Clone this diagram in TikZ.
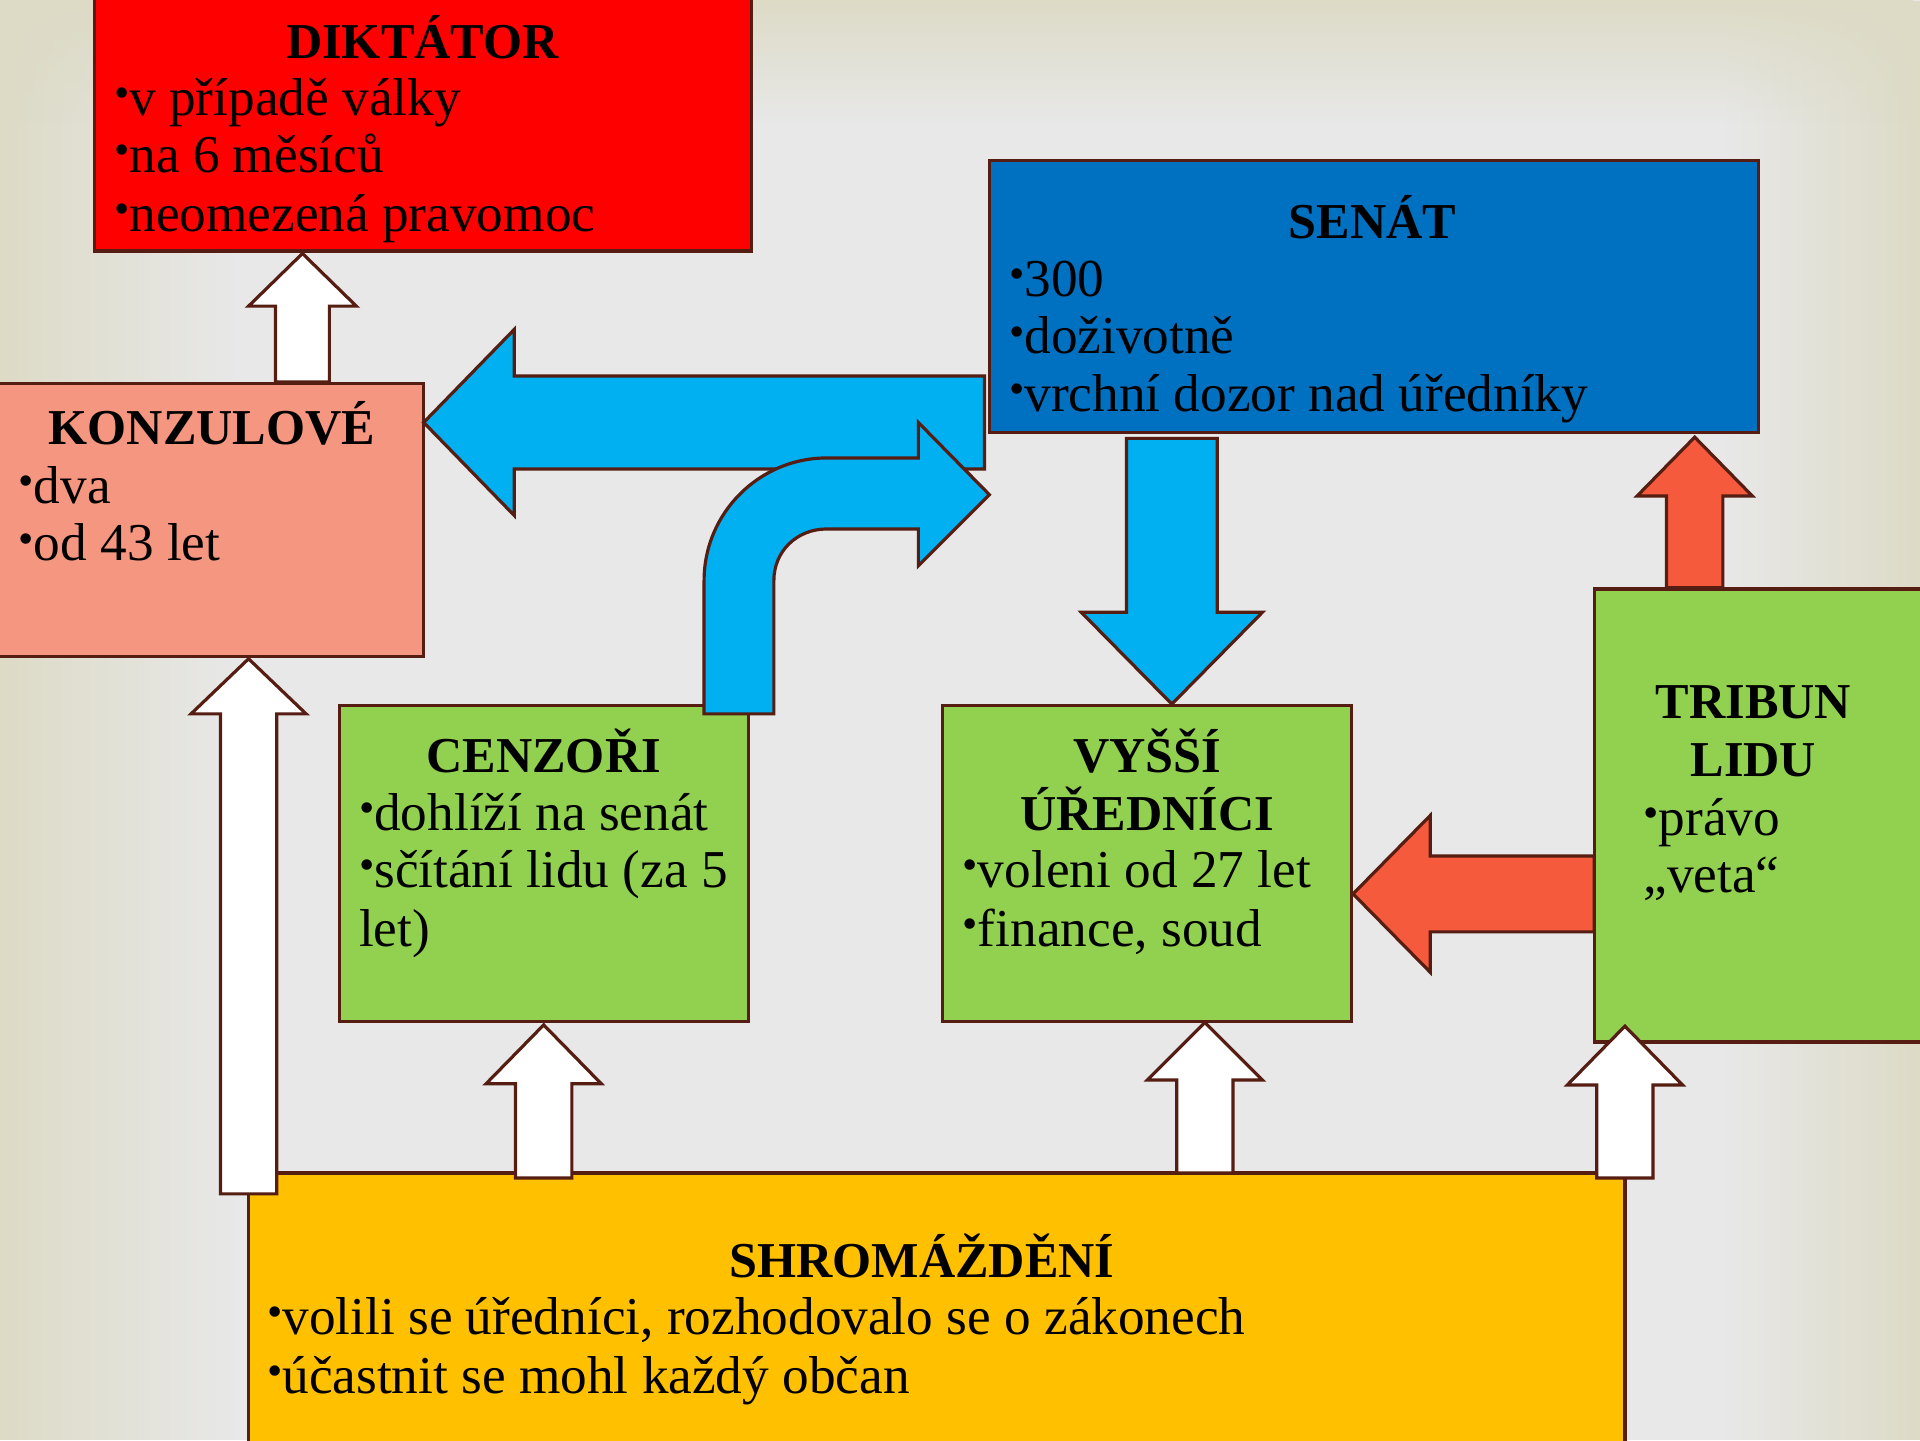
\documentclass[tikz,border=0pt]{standalone}
\usepackage{fontspec}
\setmainfont{Liberation Serif}
\usetikzlibrary{fadings}
\definecolor{bggray}{HTML}{E8E8E8}
\definecolor{bgbeige}{HTML}{DDDBC6}
\definecolor{edge}{HTML}{561D12}
\definecolor{dred}{HTML}{FF0000}
\definecolor{salmon}{HTML}{F59680}
\definecolor{senblue}{HTML}{0070C0}
\definecolor{arblue}{HTML}{00B0F0}
\definecolor{lgreen}{HTML}{92D050}
\definecolor{gold}{HTML}{FFC000}
\definecolor{orred}{HTML}{F55A3C}
\newcommand\bul{\raisebox{0.32ex}{\scalebox{0.82}{•}}}
\newcommand\uparr[7]{% tipx tipy headbase headhalf shafthalf bottom color
  \draw[blk,fill=#7] (#1,#2) -- ({#1+#4},#3) -- ({#1+#5},#3) -- ({#1+#5},#6)
    -- ({#1-#5},#6) -- ({#1-#5},#3) -- ({#1-#4},#3) -- cycle;}
\newcommand\leftarr[7]{% tipx tipy headbase headhalf shafthalf rightend color
  \draw[blk,fill=#7] (#1,#2) -- (#3,{#2-#4}) -- (#3,{#2-#5}) -- (#6,{#2-#5})
    -- (#6,{#2+#5}) -- (#3,{#2+#5}) -- (#3,{#2+#4}) -- cycle;}
\newcommand\downarr[7]{% tipx tipy headbase headhalf shafthalf top color
  \draw[blk,fill=#7] (#1,#2) -- ({#1+#4},#3) -- ({#1+#5},#3) -- ({#1+#5},#6)
    -- ({#1-#5},#6) -- ({#1-#5},#3) -- ({#1-#4},#3) -- cycle;}
\tikzset{
  box/.style={draw=edge,line width=2.6pt,inner sep=0pt,outer sep=0pt,anchor=north west},
  blk/.style={draw=edge,line width=2.6pt,line join=miter},
  ttl/.style={anchor=base,inner sep=0pt,font=\fontsize{41}{47}\selectfont\bfseries},
  itm/.style={anchor=base west,inner sep=0pt,font=\fontsize{43.5}{47}\selectfont},
}
\begin{document}
\begin{tikzpicture}[x=1pt,y=-1pt]
\useasboundingbox (0,0) rectangle (1568,1176);
% background
\fill[bggray] (0,0) rectangle (1568,1176);
\fill[bgbeige,path fading=east] (0,0) rectangle (190,1176);
\fill[bgbeige,path fading=west] (1410,0) rectangle (1568,1176);
\fill[bgbeige,path fading=south] (0,0) rectangle (1568,100);
% boxes
\node[box,fill=dred,minimum width=537pt,minimum height=209pt] (dikt) at (77,-4) {};
\node[box,fill=salmon,minimum width=350pt,minimum height=223pt] (konz) at (-4,313) {};
\node[box,fill=senblue,minimum width=628pt,minimum height=222pt] (senat) at (808,131) {};
\node[box,fill=lgreen,minimum width=334pt,minimum height=258pt] (cenz) at (277,576) {};
\node[box,fill=lgreen,minimum width=334pt,minimum height=258pt] (ured) at (770,576) {};
\node[box,fill=lgreen,minimum width=272pt,minimum height=370pt] (trib) at (1302,481) {};
\node[box,fill=gold,minimum width=1124pt,minimum height=224pt] (shrom) at (203,958) {};
% texts
\node[ttl] (t1) at (345,48) {DIKTÁTOR};
\node[itm] (d1) at (93,94) {\bul v případě války};
\node[itm] (d2) at (93,141) {\bul na 6 měsíců};
\node[itm] (d3) at (93,189) {\bul neomezená pravomoc};
\node[ttl] (t2) at (173,363) {KONZULOVÉ};
\node[itm] (k1) at (15,411) {\bul dva};
\node[itm] (k2) at (15,458) {\bul od 43 let};
\node[ttl] (t3) at (1121,195) {SENÁT};
\node[itm] (s1) at (824,242) {\bul 300};
\node[itm] (s2) at (824,289) {\bul doživotně};
\node[itm] (s3) at (824,336) {\bul vrchní dozor nad úředníky};
\node[ttl] (t4) at (444,631) {CENZOŘI};
\node[itm] (c1) at (293,678) {\bul dohlíží na senát};
\node[itm] (c2) at (293,725) {\bul sčítání lidu (za 5};
\node[itm] (c3) at (293,773) {let)};
\node[ttl] (t5) at (937,631) {VYŠŠÍ};
\node[ttl] (t5b) at (937,678) {ÚŘEDNÍCI};
\node[itm] (u1) at (786,725) {\bul voleni od 27 let};
\node[itm] (u2) at (786,773) {\bul finance, soud};
\node[ttl] (t6) at (1432,587) {TRIBUN};
\node[ttl] (t6b) at (1432,634) {LIDU};
\node[itm] (r1) at (1342,682) {\bul právo};
\node[itm] (r2) at (1342,729) {„veta“};
\node[ttl] (t7) at (753,1043) {SHROMÁŽDĚNÍ};
\node[itm] (h1) at (218,1090) {\bul volili se úředníci, rozhodovalo se o zákonech};
\node[itm] (h2) at (218,1138) {\bul účastnit se mohl každý občan};
% arrows
\uparr{247}{207}{250}{44}{22}{312}{white}
\leftarr{346}{345}{420}{76}{38}{804}{arblue}
\draw[blk,fill=arblue] (575,583) -- (575,474) .. controls (575,419) and (620,374) .. (675,374)
  -- (750,374) -- (750,345) -- (808,404) -- (750,462) -- (750,432) -- (675,432)
  .. controls (651,432) and (632,450) .. (632,474) -- (632,583) -- cycle;
\downarr{957}{575}{500}{74}{37}{358}{arblue}
\uparr{1384}{357}{405}{47}{23}{480}{orred}
\leftarr{1105}{730}{1168}{64}{31}{1302}{orred}
\uparr{203}{538}{583}{47}{23}{975}{white}
\uparr{444}{837}{885}{47}{23}{962}{white}
\uparr{984}{835}{882}{47}{23}{958}{white}
\uparr{1327}{838}{886}{47}{23}{962}{white}
\end{tikzpicture}
\end{document}
